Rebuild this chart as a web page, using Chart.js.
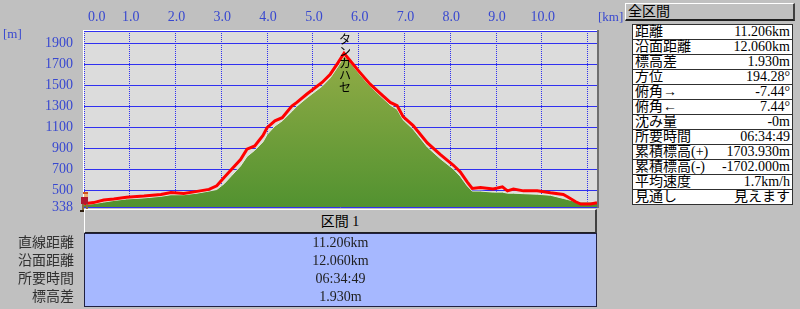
<!DOCTYPE html>
<html>
<head>
<meta charset="utf-8">
<script src="https://cdn.jsdelivr.net/npm/chart.js@4.4.0/dist/chart.umd.min.js"></script>
<style>
  body { margin: 0; background: #c0c0c0; width: 800px; height: 309px; overflow: hidden; position: relative;
         font-family: "Liberation Serif", "Noto Sans CJK JP", serif; }
  #chart { position: absolute; left: 0; top: 0; }
  .btn { position: absolute; background: #c0c0c0; box-sizing: border-box;
         border-top: 1px solid #fff; border-left: 1px solid #fff;
         border-right: 2px solid #404040; border-bottom: 2px solid #202020; color: #000; }
  #allHead { left: 625px; top: 3px; width: 170px; height: 18px; font-size: 14px; line-height: 15px; padding-left: 2px; }
  #summary { position: absolute; left: 632px; top: 24px; width: 161px; border-collapse: collapse; background: #fff; }
  #summary td { height: 14px; padding: 0 2px; border-top: 1px solid #303030; border-bottom: 1px solid #303030;
                font-size: 14px; line-height: 14px; white-space: nowrap; color: #000; }
  #summary td:first-child { border-left: 1px solid #303030; }
  #summary td:last-child { border-right: 1px solid #303030; text-align: right; }
  #secHead { left: 84px; top: 209px; width: 513px; height: 25px; font-size: 14px; line-height: 24px; text-align: center; }
  #secBody { position: absolute; left: 84px; top: 233px; width: 513px; height: 74px; box-sizing: border-box;
             background: #a6b8ff; border: 1px solid #202040; }
  .row { position: absolute; height: 18px; font-size: 14px; line-height: 18px; white-space: nowrap; color: #202020; }
  .val { left: 84px; width: 513px; text-align: center; }
  .lab { left: 0; width: 74px; text-align: right; color: #303030; }
  .unit { position: absolute; color: #3848d0; font-size: 13px; }
</style>
</head>
<body>
<canvas id="chart" width="800" height="309"></canvas>
<div class="unit" style="left:3px; top:26px;">[m]</div>
<div class="unit" style="left:598px; top:9px;">[km]</div>
<div id="allHead" class="btn">全区間</div>
<table id="summary"></table>
<div id="secHead" class="btn">区間 1</div>
<div id="secBody"></div>
<div id="secRows"></div>
<script>
// 距離 [km]
const distKm = [0.00, 0.21, 0.43, 0.65, 0.93, 1.31, 1.68, 1.90, 2.18, 2.47, 2.73, 2.90, 3.06, 3.23, 3.42,
  3.56, 3.73, 3.91, 4.00, 4.17, 4.33, 4.54, 4.65, 4.87, 5.20, 5.38, 5.55, 5.68, 5.81, 6.03, 6.25, 6.47,
  6.69, 6.84, 6.97, 7.19, 7.50, 7.78, 8.07, 8.22, 8.37, 8.48, 8.66, 8.94, 9.14, 9.25, 9.38, 9.60, 9.90,
  10.19, 10.47, 10.56, 10.74, 10.85, 11.07, 11.206];
// 軌跡の標高 (赤線)
const trackElev = [370, 380, 404, 414, 430, 442, 458, 477, 468, 487, 506, 540, 620, 700, 790,
  890, 920, 1020, 1095, 1160, 1190, 1300, 1336, 1416, 1526, 1605, 1715, 1805, 1735, 1620, 1510, 1422,
  1336, 1305, 1200, 1115, 950, 840, 736, 673, 578, 515, 525, 509, 530, 492, 509, 492, 494,
  474, 458, 436, 388, 366, 366, 379];
// 地形の標高 (緑)
const groundElev = [360, 370, 385, 400, 415, 425, 440, 455, 455, 470, 490, 505, 560, 640, 730,
  820, 880, 960, 1030, 1110, 1160, 1250, 1300, 1380, 1490, 1570, 1680, 1780, 1720, 1600, 1490, 1400,
  1310, 1270, 1170, 1080, 910, 800, 700, 630, 540, 490, 490, 480, 480, 470, 470, 465, 460,
  450, 420, 410, 390, 385, 385, 385];

const yTicks = [338, 500, 700, 900, 1100, 1300, 1500, 1700, 1900];
const xGridKm = [0, 1, 2, 3, 4, 5, 6, 7, 8, 9, 10, 11];
const xTickKm = [0, 1, 2, 3, 4, 5, 6, 7, 8, 9, 10];
const peakName = 'タンカハセ';

const summaryLabels = ['距離', '沿面距離', '標高差', '方位', '俯角→', '俯角←', '沈み量', '所要時間',
  '累積標高(+)', '累積標高(-)', '平均速度', '見通し'];
const summaryValues = ['11.206km', '12.060km', '1.930m', '194.28°', '-7.44°', '7.44°', '-0m', '06:34:49',
  '1703.930m', '-1702.000m', '1.7km/h', '見えます'];
const sectionLabels = ['直線距離', '沿面距離', '所要時間', '標高差'];
const sectionValues = ['11.206km', '12.060km', '06:34:49', '1.930m'];

// 右の表
document.getElementById('summary').innerHTML = summaryLabels.map((l, i) =>
  `<tr><td>${l}</td><td>${summaryValues[i]}</td></tr>`).join('');

// 下の区間表
document.getElementById('secRows').innerHTML = sectionLabels.map((l, i) => `
  <div class="row lab" style="top:${234 + i * 18}px">${l}</div>
  <div class="row val" style="top:${234 + i * 18}px">${sectionValues[i]}</div>`).join('');

const BLUE = '#3030f0';
const LABEL_BLUE = '#3848d0';

const plotPlugin = {
  id: 'plot',
  beforeDraw(chart) {
    const { ctx, chartArea: a } = chart;
    ctx.save();
    ctx.fillStyle = '#dcdcdc';
    ctx.fillRect(a.left, a.top, a.right - a.left, a.bottom - a.top);
    ctx.restore();
  },
  afterDraw(chart) {
    const { ctx, chartArea: a, scales } = chart;
    const xs = scales.x, ys = scales.y;
    ctx.save();
    // 枠
    ctx.fillStyle = '#ffffff';
    ctx.fillRect(a.left - 1, a.top - 1, a.right - a.left + 2, 1);
    ctx.fillRect(a.left - 1, a.top - 1, 1, a.bottom - a.top + 2);
    ctx.fillStyle = BLUE;
    ctx.fillRect(a.left, a.top, a.right - a.left, 1);
    ctx.fillStyle = '#707070';
    ctx.fillRect(a.right, a.top - 1, 2, a.bottom - a.top + 2);

    // x 目盛ラベル
    ctx.font = '14px "Liberation Serif"';
    ctx.fillStyle = LABEL_BLUE;
    ctx.textBaseline = 'middle';
    xTickKm.forEach((v, i) => {
      const px = xs.getPixelForValue(v);
      if (i === 0) { ctx.textAlign = 'left'; ctx.fillText(v.toFixed(1), px + 4, 17); }
      else { ctx.textAlign = 'center'; ctx.fillText(v.toFixed(1), px + 1, 17); }
    });

    // 山頂の名前 (縦書き)
    let pk = 0;
    trackElev.forEach((e, i) => { if (e > trackElev[pk]) pk = i; });
    const px = xs.getPixelForValue(distKm[pk]);
    ctx.font = '12px "Noto Sans CJK JP"';
    ctx.fillStyle = '#000';
    ctx.textAlign = 'center';
    ctx.textBaseline = 'top';
    [...peakName].forEach((c, i) => ctx.fillText(c, px + 1, a.top + 2 + i * 12));

    // 登山者アイコン
    const hx = xs.getPixelForValue(distKm[0]);
    const hy = ys.getPixelForValue(yTicks[0]);
    ctx.fillStyle = '#d05020'; ctx.fillRect(hx - 1, hy - 15, 5, 2);
    ctx.fillStyle = '#f0b070'; ctx.fillRect(hx, hy - 13, 4, 3);
    ctx.fillStyle = '#b01830'; ctx.fillRect(hx - 3, hy - 10, 7, 7);
    ctx.fillStyle = '#8a6a40'; ctx.fillRect(hx - 2, hy - 3, 2, 6); ctx.fillRect(hx + 2, hy - 3, 2, 6);
    ctx.fillStyle = '#302010'; ctx.fillRect(hx - 4, hy + 3, 4, 2); ctx.fillRect(hx + 2, hy + 3, 4, 2);
    ctx.restore();
  }
};

new Chart(document.getElementById('chart'), {
  type: 'line',
  data: {
    datasets: [{
      label: '軌跡',
      data: distKm.map((d, i) => ({ x: d, y: trackElev[i] })),
      borderColor: '#ff0000',
      borderWidth: 3,
      pointRadius: 0,
      fill: false,
      tension: 0,
    }, {
      label: '地形',
      data: distKm.map((d, i) => ({ x: d, y: groundElev[i] })),
      borderColor: '#e8ece0',
      borderWidth: 1,
      pointRadius: 0,
      fill: 'start',
      tension: 0,
      backgroundColor: (c) => {
        const a = c.chart.chartArea;
        if (!a) return '#6a9a38';
        const g = c.chart.ctx.createLinearGradient(0, a.top, 0, a.bottom);
        g.addColorStop(0, '#9cb04a');
        g.addColorStop(1, '#529230');
        return g;
      },
    }]
  },
  options: {
    responsive: false,
    animation: false,
    events: [],
    layout: { padding: { left: 0, top: 31, right: 203, bottom: 102 } },
    plugins: { legend: { display: false }, tooltip: { enabled: false } },
    scales: {
      x: {
        type: 'linear',
        position: 'top',
        min: 0,
        max: 11.206,
        z: 1,
        afterBuildTicks: s => { s.ticks = xGridKm.map(v => ({ value: v })); },
        afterFit: s => { s.height = 0; },
        ticks: { display: false },
        grid: { color: BLUE, lineWidth: 1, drawTicks: false },
        border: { display: false, dash: [1, 1] },
      },
      y: {
        min: 338,
        max: 2017,
        z: 1,
        afterBuildTicks: s => { s.ticks = yTicks.map(v => ({ value: v })); },
        afterFit: s => { s.width = 84; },
        ticks: { color: LABEL_BLUE, font: { family: 'Liberation Serif', size: 14 }, padding: 11,
                 callback: v => String(v) },
        grid: { color: BLUE, lineWidth: 1, drawTicks: false },
        border: { display: false },
      }
    }
  },
  plugins: [plotPlugin]
});
</script>
</body>
</html>
